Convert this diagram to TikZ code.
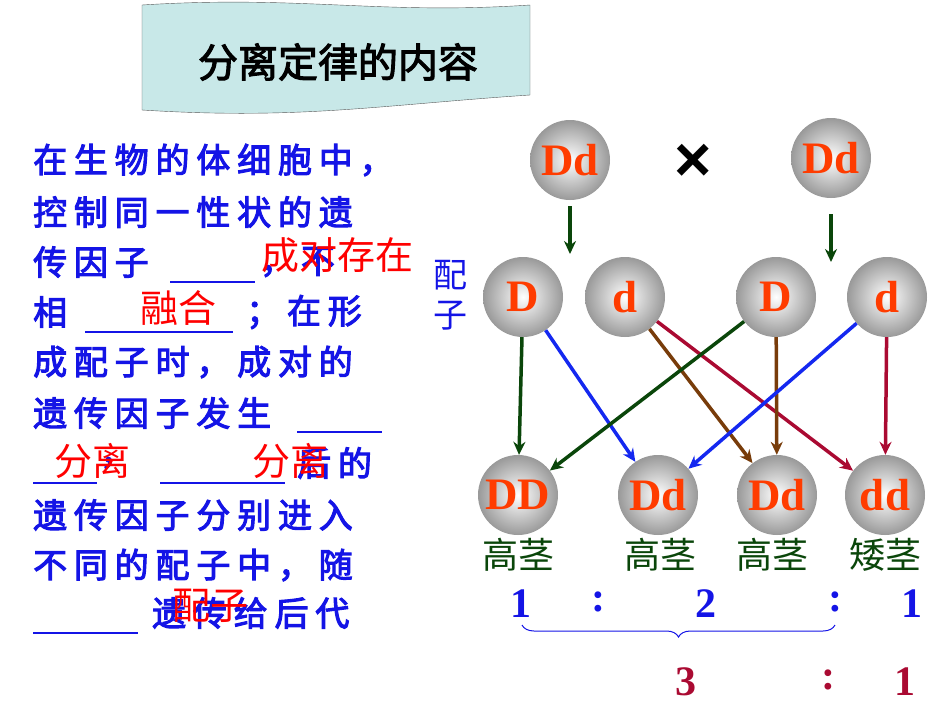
\documentclass[tikz,border=0pt]{standalone}
\usepackage{fontspec}
\setmainfont{Liberation Serif}
\newfontfamily\cjk{Noto Sans CJK SC}
\newfontfamily\cjkb{Noto Sans CJK SC}[FakeBold=3,LetterSpace=20]
\newfontfamily\cjkt{Noto Sans CJK SC}[FakeBold=2.5]
\newfontfamily\xsans{Liberation Sans}
\usetikzlibrary{decorations.pathreplacing,arrows.meta}
\definecolor{tblue}{RGB}{20,20,230}
\definecolor{ored}{RGB}{255,60,0}
\definecolor{dgreen}{RGB}{10,70,10}
\definecolor{brn}{RGB}{120,60,10}
\definecolor{crim}{RGB}{170,10,50}
\definecolor{lblue}{RGB}{20,40,240}
\begin{document}
\begin{tikzpicture}[x=1pt,y=-1pt,
 ball/.style={circle,minimum size=80pt,inner sep=0pt,inner color=white,outer color=gray!80,font=\bfseries\fontsize{45}{45}\selectfont,text=ored},
 bt/.style={anchor=west,text=tblue,font=\cjkb\fontsize{34}{34}\selectfont,inner sep=0pt},
 rt/.style={text=red,font=\cjk\fontsize{38}{38}\selectfont,inner sep=0pt},
 ul/.style={tblue,line width=1.5pt},
 ar/.style={line width=3.5pt,-{Stealth[length=13pt,width=12pt]}},
 lab/.style={text=dgreen,font=\cjk\fontsize{36}{36}\selectfont},
 rat/.style={font=\bfseries\fontsize{42}{42}\selectfont}]
\useasboundingbox (0,0) rectangle (950,713);
% title
\draw[fill={rgb,255:red,200;green,232;blue,232},draw=gray!70!black]
 (142,5) .. controls (300,-5) and (380,15) .. (530,5) -- (530,95)
 .. controls (380,105) and (300,120) .. (142,110) -- cycle;
\node[font=\cjkt\fontsize{40}{40}\selectfont] (title) at (338,62) {分离定律的内容};
% left text
\node[bt] (l1) at (33,160) {在生物的体细胞中，};
\node[bt] (l2) at (33,212) {控制同一性状的遗};
\node[bt] (l3) at (33,262) {传因子};
\node[bt] (l3b) at (260,262) {，不};
\draw[ul] (170,282) -- (255,282);
\node[bt] (l4) at (33,312) {相};
\draw[ul] (85,332) -- (233,332);
\node[bt] (l4b) at (246,312) {；在形};
\node[bt] (l5) at (33,362) {成配子时，成对的};
\node[bt] (l6) at (33,413) {遗传因子发生};
\draw[ul] (297,432) -- (382,432);
\draw[ul] (33,483) -- (97,483);
\node[bt] (l7a) at (100,463) {，};
\draw[ul] (160,483) -- (285,483);
\node[bt] (l7b) at (297,463) {后的};
\node[bt] (l8) at (33,515) {遗传因子分别进入};
\node[bt] (l9) at (33,565) {不同的配子中，随};
\draw[ul] (33,633) -- (138,633);
\node[bt] (l10) at (152,613) {遗传给后代};
\node[rt] (r1) at (337,255) {成对存在};
\node[rt] (r2) at (178,308) {融合};
\node[rt] (r3) at (92,461) {分离};
\node[rt] (r4) at (290,461) {分离};
\node[rt] (r5) at (210,606) {配子};
\node[text=tblue,font=\cjk\fontsize{34}{34}\selectfont,align=center,inner sep=0pt] (pz) at (450,295) {配\\[6pt]子};
% balls
\node[ball] (p1) at (570,160) {Dd};
\node[ball] (p2) at (831,158) {Dd};
\node[font=\xsans\bfseries\fontsize{64}{64}\selectfont] (x) at (693,163) {×};
\node[ball] (g1) at (523,297) {D};
\node[ball] (g2) at (625,297) {d};
\node[ball] (g3) at (776,297) {D};
\node[ball] (g4) at (887,297) {d};
\node[ball] (o1) at (518,495) {DD};
\node[ball] (o2) at (658,495) {Dd};
\node[ball] (o3) at (777,495) {Dd};
\node[ball] (o4) at (885,495) {dd};
\coordinate (a1s) at (570,206); \coordinate (a1e) at (570,254);
\coordinate (a2s) at (831,214); \coordinate (a2e) at (831,262);
\draw[ar,dgreen] (a1s) -- (a1e);
\draw[ar,dgreen] (a2s) -- (a2e);
\draw[ar,dgreen] (g1) -- (o1);
\draw[ar,lblue] (g1) -- (o2);
\draw[ar,brn] (g2) -- (o3);
\draw[ar,crim] (g2) -- (o4);
\draw[ar,dgreen] (g3) -- (o1);
\draw[ar,brn] (g3) -- (o3);
\draw[ar,lblue] (g4) -- (o2);
\draw[ar,crim] (g4) -- (o4);
\node[lab] (h1) at (518,555) {高茎};
\node[lab] (h2) at (660,555) {高茎};
\node[lab] (h3) at (772,555) {高茎};
\node[lab] (h4) at (885,555) {矮茎};
\node[rat,text=tblue] (n1) at (521,604) {1};
\node[rat,text=tblue] (c1) at (598,602) {:};
\node[rat,text=tblue] (n2) at (706,604) {2};
\node[rat,text=tblue] (c2) at (835,602) {:};
\node[rat,text=tblue] (n3) at (912,604) {1};
\draw[tblue,line width=1pt,decorate,decoration={brace,mirror,amplitude=12pt}] (522,625) -- (835,625);
\node[rat,text=crim] (m1) at (686,682) {3};
\node[rat,text=crim] (m2) at (828,680) {:};
\node[rat,text=crim] (m3) at (905,682) {1};
\end{tikzpicture}
\end{document}
